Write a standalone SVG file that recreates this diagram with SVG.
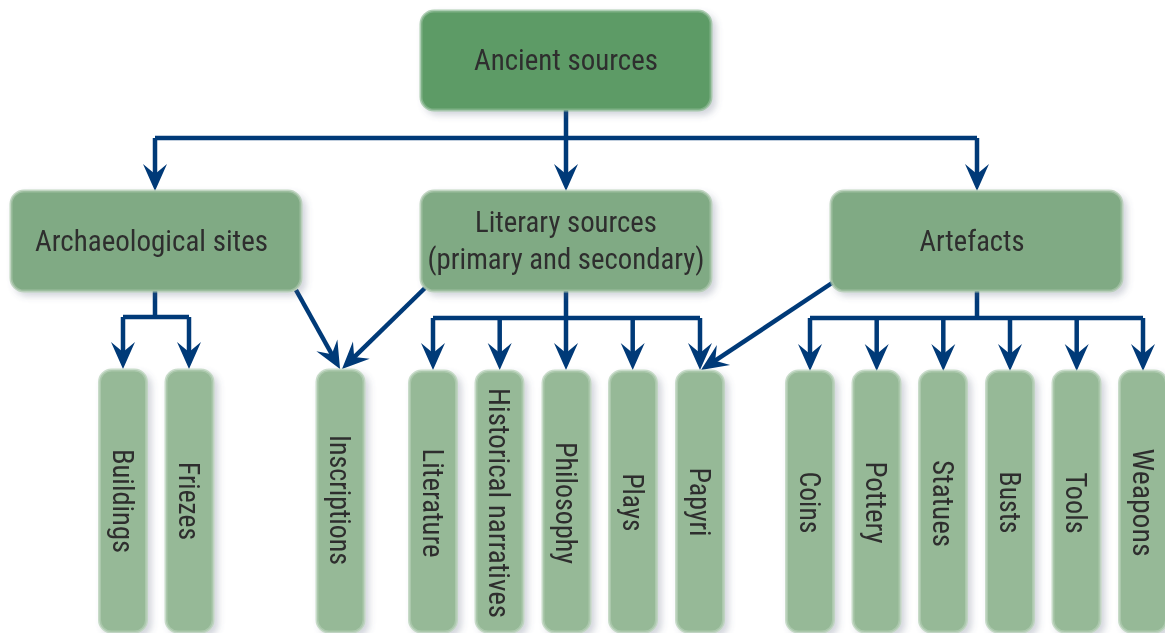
<svg xmlns="http://www.w3.org/2000/svg" width="1165" height="633" viewBox="0 0 1165 633">
<defs>
<filter id="sh" x="-20%" y="-20%" width="150%" height="150%">
<feGaussianBlur in="SourceAlpha" stdDeviation="3.5" result="b"/>
<feOffset in="b" dx="4" dy="4" result="o"/>
<feComponentTransfer in="o" result="s"><feFuncA type="linear" slope="0.28"/></feComponentTransfer>
<feFlood flood-color="#55607a"/>
<feComposite in2="s" operator="in" result="sc"/>
<feMerge><feMergeNode in="sc"/><feMergeNode in="SourceGraphic"/></feMerge>
</filter>
<marker id="ah" markerUnits="userSpaceOnUse" markerWidth="40" markerHeight="40" viewBox="-20 -20 40 40" refX="0" refY="0" orient="auto">
<path d="M12,0 L-15,-12 L-5,0 L-15,12 Z" fill="#003a78"/>
</marker>
<style>
.top{fill:#5d9b66;stroke:#8fba95;stroke-width:3;stroke-opacity:0.7}
.mid{fill:#80aa84;stroke:#a9c6ab;stroke-width:3;stroke-opacity:0.7}
.leaf{fill:#96b997;stroke:#b4cfb5;stroke-width:3;stroke-opacity:0.7}
.t{font-family:"Liberation Sans Narrow","Roboto Condensed","Liberation Sans",Arial,sans-serif;font-size:29px;fill:#2e2e2e}
.c{fill:none;stroke:#003a78;stroke-width:4.5}
.a{marker-end:url(#ah)}
</style>
</defs>

<g id="connectors">
<path class="c" d="M566,110 V138" stroke-width="5.5"/>
<path class="c" d="M155,138 H977"/>
<path class="c a" d="M155,138 V179"/>
<path class="c a" d="M566,138 V179"/>
<path class="c a" d="M977,138 V179"/>

<path class="c" d="M155,291 V317 M123,317 H189"/>
<path class="c a" d="M123,317 V357"/>
<path class="c a" d="M189,317 V357"/>

<path class="c" d="M566,291 V318 M433,318 H700"/>
<path class="c a" d="M433,318 V358"/>
<path class="c a" d="M499.7,318 V358"/>
<path class="c a" d="M566,318 V358"/>
<path class="c a" d="M632.7,318 V358"/>
<path class="c a" d="M700,318 V358"/>

<path class="c" d="M977,291 V318 M810,318 H1143"/>
<path class="c a" d="M810,318 V359"/>
<path class="c a" d="M876.7,318 V359"/>
<path class="c a" d="M943.3,318 V359"/>
<path class="c a" d="M1010,318 V359"/>
<path class="c a" d="M1076.7,318 V359"/>
<path class="c a" d="M1143,318 V359"/>

<path class="c a" d="M296,290 L334.2,358.5"/>
<path class="c a" d="M425,288 L350.6,360.6"/>
<path class="c a" d="M832,283 L711,363.4"/>
</g>

<g id="n-ancient" filter="url(#sh)">
<rect class="top" x="421" y="11" width="290" height="99" rx="13"/>
<text class="t" x="566" y="70" text-anchor="middle" textLength="184" lengthAdjust="spacingAndGlyphs">Ancient sources</text>
</g>
<g id="n-arch" filter="url(#sh)">
<rect class="mid" x="11" y="191" width="290" height="100" rx="13"/>
<text class="t" x="35" y="251" textLength="233" lengthAdjust="spacingAndGlyphs">Archaeological sites</text>
</g>
<g id="n-literary" filter="url(#sh)">
<rect class="mid" x="421" y="191" width="290" height="100" rx="13"/>
<text class="t" x="566" y="232" text-anchor="middle" textLength="182" lengthAdjust="spacingAndGlyphs">Literary sources</text>
<text class="t" x="566" y="269" text-anchor="middle" textLength="277" lengthAdjust="spacingAndGlyphs">(primary and secondary)</text>
</g>
<g id="n-artefacts" filter="url(#sh)">
<rect class="mid" x="831" y="191" width="291" height="100" rx="13"/>
<text class="t" x="972" y="251" text-anchor="middle" textLength="105" lengthAdjust="spacingAndGlyphs">Artefacts</text>
</g>

<g id="n-buildings" filter="url(#sh)">
<rect class="leaf" x="99.5" y="370" width="47" height="262" rx="12"/>
<text class="t" transform="translate(123,501) rotate(90)" y="10.5" text-anchor="middle" textLength="104" lengthAdjust="spacingAndGlyphs">Buildings</text>
</g>
<g id="n-friezes" filter="url(#sh)">
<rect class="leaf" x="166" y="370" width="47" height="262" rx="12"/>
<text class="t" transform="translate(189.5,501) rotate(90)" y="10.5" text-anchor="middle" textLength="78" lengthAdjust="spacingAndGlyphs">Friezes</text>
</g>
<g id="n-inscriptions" filter="url(#sh)">
<rect class="leaf" x="317" y="370" width="47" height="262" rx="12"/>
<text class="t" transform="translate(340.5,500) rotate(90)" y="10.5" text-anchor="middle" textLength="130" lengthAdjust="spacingAndGlyphs">Inscriptions</text>
</g>
<g id="n-literature" filter="url(#sh)">
<rect class="leaf" x="409.5" y="371" width="47" height="261" rx="12"/>
<text class="t" transform="translate(433,503) rotate(90)" y="10.5" text-anchor="middle" textLength="109" lengthAdjust="spacingAndGlyphs">Literature</text>
</g>
<g id="n-historical" filter="url(#sh)">
<rect class="leaf" x="476" y="371" width="47" height="261" rx="12"/>
<text class="t" transform="translate(499.5,503) rotate(90)" y="10.5" text-anchor="middle" textLength="230" lengthAdjust="spacingAndGlyphs">Historical narratives</text>
</g>
<g id="n-philosophy" filter="url(#sh)">
<rect class="leaf" x="543" y="371" width="47" height="261" rx="12"/>
<text class="t" transform="translate(566.5,503) rotate(90)" y="10.5" text-anchor="middle" textLength="122" lengthAdjust="spacingAndGlyphs">Philosophy</text>
</g>
<g id="n-plays" filter="url(#sh)">
<rect class="leaf" x="609.5" y="371" width="47" height="261" rx="12"/>
<text class="t" transform="translate(633,502.5) rotate(90)" y="10.5" text-anchor="middle" textLength="58" lengthAdjust="spacingAndGlyphs">Plays</text>
</g>
<g id="n-papyri" filter="url(#sh)">
<rect class="leaf" x="676.5" y="371" width="47" height="261" rx="12"/>
<text class="t" transform="translate(700,502) rotate(90)" y="10.5" text-anchor="middle" textLength="69" lengthAdjust="spacingAndGlyphs">Papyri</text>
</g>

<g id="n-coins" filter="url(#sh)">
<rect class="leaf" x="786.5" y="371" width="47" height="261" rx="12"/>
<text class="t" transform="translate(810,502.5) rotate(90)" y="10.5" text-anchor="middle" textLength="62" lengthAdjust="spacingAndGlyphs">Coins</text>
</g>
<g id="n-pottery" filter="url(#sh)">
<rect class="leaf" x="853" y="371" width="47" height="261" rx="12"/>
<text class="t" transform="translate(876.5,502.5) rotate(90)" y="10.5" text-anchor="middle" textLength="82" lengthAdjust="spacingAndGlyphs">Pottery</text>
</g>
<g id="n-statues" filter="url(#sh)">
<rect class="leaf" x="919.5" y="371" width="47" height="261" rx="12"/>
<text class="t" transform="translate(943,503.5) rotate(90)" y="10.5" text-anchor="middle" textLength="87" lengthAdjust="spacingAndGlyphs">Statues</text>
</g>
<g id="n-busts" filter="url(#sh)">
<rect class="leaf" x="986.5" y="371" width="47" height="261" rx="12"/>
<text class="t" transform="translate(1010,502.5) rotate(90)" y="10.5" text-anchor="middle" textLength="62" lengthAdjust="spacingAndGlyphs">Busts</text>
</g>
<g id="n-tools" filter="url(#sh)">
<rect class="leaf" x="1053" y="371" width="47" height="261" rx="12"/>
<text class="t" transform="translate(1076.5,503) rotate(90)" y="10.5" text-anchor="middle" textLength="61" lengthAdjust="spacingAndGlyphs">Tools</text>
</g>
<g id="n-weapons" filter="url(#sh)">
<rect class="leaf" x="1119.5" y="371" width="47" height="261" rx="12"/>
<text class="t" transform="translate(1143,502.5) rotate(90)" y="10.5" text-anchor="middle" textLength="108" lengthAdjust="spacingAndGlyphs">Weapons</text>
</g>
</svg>
